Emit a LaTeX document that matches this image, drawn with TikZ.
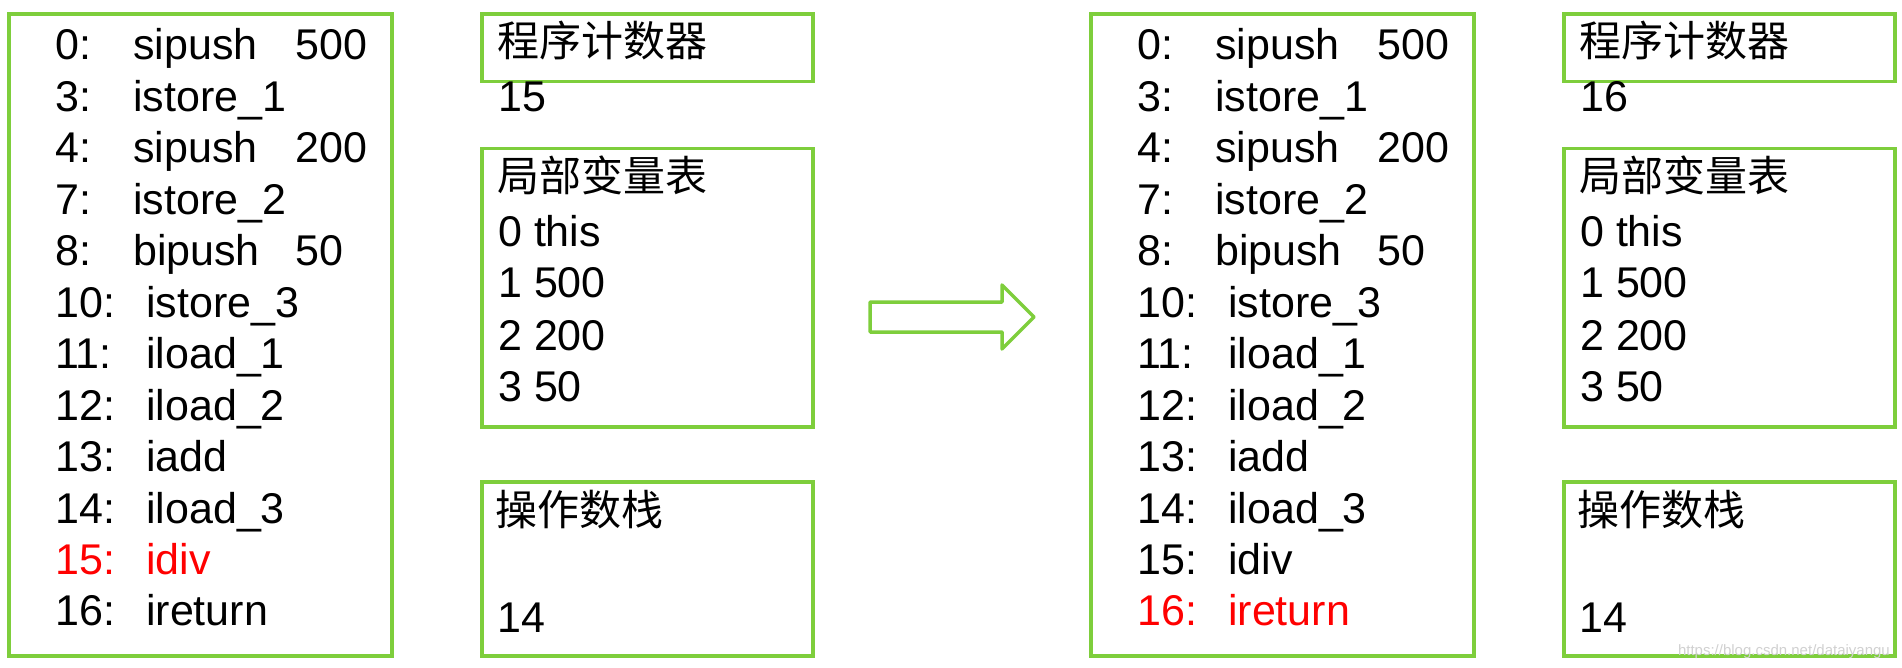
\documentclass[tikz,border=0pt]{standalone}
\usepackage{fontspec}
\setmainfont{Liberation Sans}
\newfontfamily\cjk{Noto Sans CJK SC}
\definecolor{boxgreen}{RGB}{126,206,60}
\tikzset{
  panel/.style={draw=boxgreen, line width=3.5pt, inner sep=0pt, anchor=north west},
  codetxt/.style={anchor=base west, inner sep=0pt, font=\fontsize{43}{50}\selectfont},
  cjktxt/.style={anchor=base west, inner sep=0pt, font=\cjk\fontsize{42}{50}\selectfont},
}
\newcommand\jvmframe[3]{%
  % #1 prefix, #2 counter value, #3 index of red line
  \node[panel, minimum width=383, minimum height=641.5] (#1code) at (7,12.5) {};
  \foreach \n/\op/\arg/\ox [count=\i from 0] in {
      0:/sipush/500/133, 3:/istore\_1//133, 4:/sipush/200/133, 7:/istore\_2//133,
      8:/bipush/50/133, 10:/istore\_3//146, 11:/iload\_1//146, 12:/iload\_2//146,
      13:/iadd//146, 14:/iload\_3//146, 15:/idiv//146, 16:/ireturn//146}{
    \def\col{black}\ifnum\i=#3\def\col{red}\fi
    \pgfmathsetmacro\yy{60+51.45*\i}
    \node[codetxt, text=\col] (#1num\i) at (55,\yy) {\n};
    \node[codetxt, text=\col] (#1op\i) at (\ox,\yy) {\op};
    \node[codetxt, text=\col] (#1arg\i) at (295,\yy) {\arg};
  }
  \node[panel, minimum width=331, minimum height=67.5] (#1pc) at (480,12.5) {};
  \node[cjktxt] (#1pct) at (497,57) {程序计数器};
  \node[codetxt] (#1pcv) at (498,112) {#2};
  \node[panel, minimum width=331, minimum height=278] (#1lv) at (480,147) {};
  \node[cjktxt] (#1lvt) at (497,192) {局部变量表};
  \node[codetxt] (#1lv0) at (498,247) {0 this};
  \node[codetxt] (#1lv1) at (498,298) {1 500};
  \node[codetxt] (#1lv2) at (498,350) {2 200};
  \node[codetxt] (#1lv3) at (498,401) {3 50};
  \node[panel, minimum width=331, minimum height=174] (#1st) at (480,480) {};
  \node[cjktxt] (#1stt) at (495,525) {操作数栈};
  \node[codetxt] (#1stv) at (497,632) {14};
}
\begin{document}
\begin{tikzpicture}[x=1pt, y=-1pt]
  \useasboundingbox (0,0) rectangle (1902,668);
  \fill[white] (0,0) rectangle (1902,668);
  \begin{scope}
    \jvmframe{A}{15}{10}
  \end{scope}
  \begin{scope}[xshift=1082pt]
    \jvmframe{B}{16}{11}
  \end{scope}
  \draw[draw=boxgreen, line width=3.5pt, line join=round]
    (870,302) -- (1002,302) -- (1002,285) -- (1034,317) -- (1002,349)
    -- (1002,332) -- (870,332) -- cycle;
  \node[anchor=base east, inner sep=0pt, text=black!18,
        font=\fontsize{15}{18}\selectfont] (wm) at (1890,655)
        {https://blog.csdn.net/dataiyangu};
\end{tikzpicture}
\end{document}
